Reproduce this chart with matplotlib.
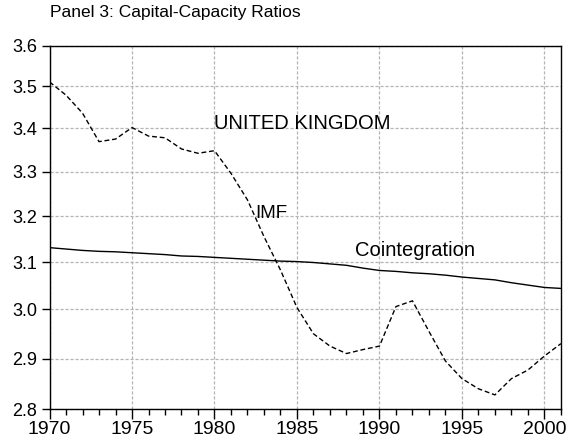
import numpy as np
import matplotlib
matplotlib.use("Agg")
import matplotlib.pyplot as plt
from matplotlib.ticker import FixedLocator, NullFormatter, NullLocator

plt.rcParams['font.family'] = ['Liberation Sans', 'DejaVu Sans']

# data
years = list(range(1970, 2002))
imf_uk = [3.511, 3.479, 3.436, 3.369, 3.375, 3.402, 3.382, 3.378, 3.352, 3.342,
          3.348, 3.296, 3.236, 3.155, 3.083, 3.004, 2.950, 2.925, 2.910, 2.918,
          2.925, 3.006, 3.018, 2.955, 2.895, 2.860, 2.840, 2.828, 2.860, 2.877,
          2.905, 2.930]
coint = [3.131, 3.128, 3.125, 3.123, 3.122, 3.120, 3.118, 3.116, 3.113, 3.112,
         3.110, 3.108, 3.106, 3.104, 3.102, 3.101, 3.099, 3.096, 3.093, 3.087,
         3.082, 3.080, 3.077, 3.075, 3.072, 3.068, 3.065, 3.062, 3.056, 3.051,
         3.046, 3.044]
y_ticks = [2.8, 2.9, 3.0, 3.1, 3.2, 3.3, 3.4, 3.5, 3.6]
x_ticks = [1970, 1975, 1980, 1985, 1990, 1995, 2000]

fig = plt.figure(figsize=(5.66, 4.42), dpi=100)
ax = fig.add_axes([0.0875, 0.074, 0.9035, 0.8226])

ax.plot(years, imf_uk, color='black', lw=1.0, dashes=(3.5, 2.0))
ax.plot(years, coint, color='black', lw=1.0)

ax.set_yscale('log')
ax.set_ylim(2.8, 3.6)
ax.set_xlim(1970, 2001)
ax.yaxis.set_major_locator(FixedLocator(y_ticks))
ax.yaxis.set_major_formatter(plt.FixedFormatter(['%.1f' % v for v in y_ticks]))
ax.yaxis.set_minor_locator(NullLocator())
ax.yaxis.set_minor_formatter(NullFormatter())
ax.xaxis.set_major_locator(FixedLocator(x_ticks))
ax.xaxis.set_minor_locator(FixedLocator(years))

ax.tick_params(axis='y', which='major', direction='out', length=6, width=1,
               labelsize=13, pad=3)
ax.tick_params(axis='x', which='major', direction='out', length=7, width=1,
               labelsize=14, pad=1.5)
ax.tick_params(axis='x', which='minor', direction='out', length=4, width=1)

ax.grid(True, which='major', color='#b4b4b4', lw=0.9, dashes=(2.5, 1.5))
for s in ax.spines.values():
    s.set_linewidth(1.0)
    s.set_color('black')

ax.text(1980.0, 3.412, 'UNITED KINGDOM', fontsize=14.5, va='center', ha='left')
ax.text(1982.5, 3.205, 'IMF', fontsize=13.5, va='center', ha='left')
ax.text(1988.5, 3.125, 'Cointegration', fontsize=14.5, va='center', ha='left')

fig.text(50 / 566, 1 - 12 / 442, 'Panel 3: Capital-Capacity Ratios',
         fontsize=12.5, va='center', ha='left')

fig.savefig('out.png', dpi=100)
